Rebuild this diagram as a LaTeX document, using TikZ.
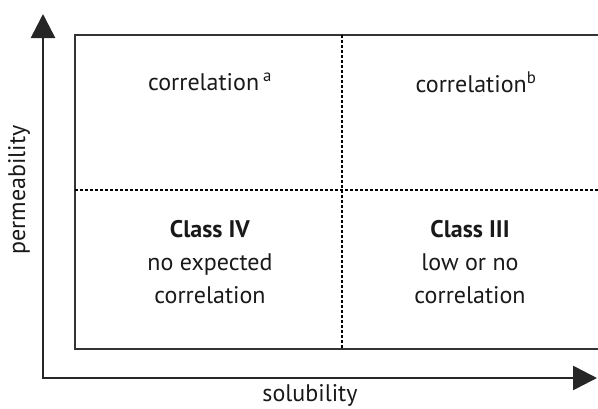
\documentclass[tikz,border=0pt]{standalone}
\usepackage{fontspec}
\setmainfont{PT Sans}
\usetikzlibrary{arrows.meta}
\begin{document}
\begin{tikzpicture}[x=1pt,y=-1pt,
  lbl/.style={font=\fontsize{24}{33}\selectfont, align=center, text=black!90},
  frame/.style={draw=black!80, line width=2.6pt},
  axis/.style={draw=black!85, line width=2.6pt, -{Triangle[length=24pt,width=24pt]}},
  grid/.style={draw=black, line width=1.4pt, dash pattern=on 2.5pt off 2.5pt}]
\useasboundingbox (0,0) rectangle (598,408);
\coordinate (tl) at (75,35);
\coordinate (bl) at (75,349);
\coordinate (tr) at (600,35);
\coordinate (br) at (600,349);
\draw[frame] (tr) -- (tl) -- (bl) -- (br);
\coordinate (vt) at (342,35);
\coordinate (vb) at (342,349);
\coordinate (hl) at (75,190);
\coordinate (hr) at (600,190);
\draw[grid] (vt) -- (vb);
\draw[grid] (hl) -- (hr);
\coordinate (ytail) at (43,379);
\coordinate (xtail) at (42,378);
\coordinate (ytip) at (43,14);
\coordinate (xtip) at (597,378);
\draw[axis] (ytail) -- (ytip);
\draw[axis] (xtail) -- (xtip);
\node[lbl] (c1) at (210,82) {correlation\,\textsuperscript{a}};
\node[lbl] (c2) at (476,82) {correlation\textsuperscript{b}};
\node[lbl] (c4) at (210,262) {\textbf{Class IV}\\no expected\\correlation};
\node[lbl] (c3) at (470,262) {\textbf{Class III}\\low or no\\correlation};
\node[lbl] (xl) at (310,395) {solubility};
\node[lbl, rotate=90] (yl) at (19,190) {permeability};
\end{tikzpicture}
\end{document}
